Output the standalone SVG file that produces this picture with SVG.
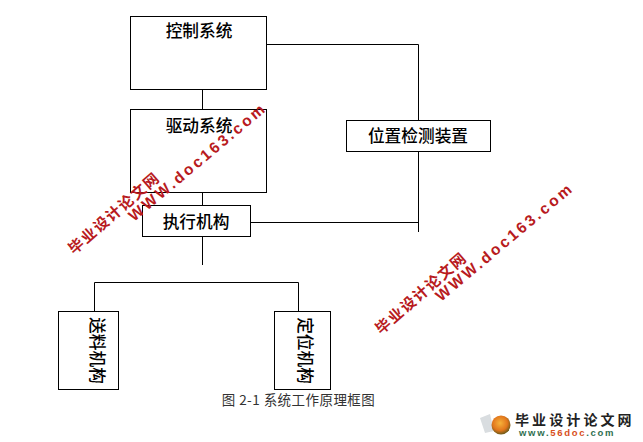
<svg xmlns="http://www.w3.org/2000/svg" width="643" height="442" viewBox="0 0 643 442">
<style>
.box{fill:#fff;stroke:#000;stroke-width:1}
.ln{fill:none;stroke:#000;stroke-width:1}
.t{font-family:"Noto Sans CJK SC","Liberation Serif",serif;font-size:16.7px;fill:#000;text-anchor:middle;font-weight:500}
.cap{font-family:"Noto Sans CJK SC","Liberation Sans",sans-serif;font-size:13.5px;fill:#333;text-anchor:middle;letter-spacing:.45px}
.wm1{font-family:"Noto Sans CJK SC","Liberation Sans",sans-serif;font-size:15px;font-weight:700;fill:#b81a20;letter-spacing:1.5px}
.wm2{font-family:"Liberation Sans",sans-serif;font-size:15.5px;font-weight:700;fill:#b81a20;letter-spacing:2.7px}
</style>
<defs>
<radialGradient id="ball" cx="0.45" cy="0.4" r="0.6"><stop offset="0" stop-color="#f6b23a"/><stop offset="0.65" stop-color="#e2761c"/><stop offset="1" stop-color="#6b5a1a"/></radialGradient>
</defs>
<rect width="643" height="442" fill="#fff"/>
<g id="connectors">
<path class="ln" d="M202.500 90V109"/>
<path class="ln" d="M202.500 192V205"/>
<path class="ln" d="M202.500 236V265"/>
<path class="ln" d="M267 44.500H418.500V120"/>
<path class="ln" d="M418.500 151V232"/>
<path class="ln" d="M250 222.500H418.500"/>
<path class="ln" d="M94.500 311V282.500H298.500V311"/>
</g>
<g id="node-control"><rect class="box" x="130.500" y="16.500" width="136" height="73"/><text class="t" x="199" y="37">控制系统</text></g>
<g id="node-drive"><rect class="box" x="130.500" y="109.500" width="136" height="83"/><text class="t" x="199" y="132">驱动系统</text></g>
<g id="node-actuator"><rect class="box" x="142.500" y="205.500" width="108" height="31"/><text class="t" x="196" y="228">执行机构</text></g>
<g id="node-position"><rect class="box" x="346.500" y="120.500" width="144" height="31"/><text class="t" x="418" y="142">位置检测装置</text></g>
<g id="node-feed"><rect class="box" x="58.500" y="311.500" width="60" height="78"/><text class="t" transform="translate(91 350.500) rotate(90)" x="0" y="0">送料机构</text></g>
<g id="node-locate"><rect class="box" x="274.500" y="311.500" width="56" height="78"/><text class="t" transform="translate(298.500 350.500) rotate(90)" x="0" y="0">定位机构</text></g>
<text class="cap" x="298.500" y="405">图 2-1 系统工作原理框图</text>
<g id="watermark-1">
<text class="wm1" transform="translate(74 255) rotate(-41)">毕业设计论文网</text>
<text class="wm2" transform="translate(134 222) rotate(-40)">WWW.doc163.com</text>
</g>
<g id="watermark-2">
<text class="wm1" transform="translate(381 335) rotate(-41)">毕业设计论文网</text>
<text class="wm2" transform="translate(441 302) rotate(-40)">WWW.doc163.com</text>
</g>
<g id="logo">
<path d="M480 418L490 414L494 431L485 433Z" fill="#d9dde0"/>
<circle cx="501" cy="425" r="9.500" fill="url(#ball)"/>
<text x="515" y="424.500" font-family="'Noto Sans CJK SC',sans-serif" font-size="14" font-weight="700" fill="#222" letter-spacing="3.100">毕业设计论文网</text>
<text x="519" y="436" font-family="'Liberation Sans',sans-serif" font-size="9.500" font-weight="700" fill="#2f6f4f" letter-spacing="1.700">www.<tspan fill="#d8501c">56doc</tspan>.com</text>
</g>
</svg>
